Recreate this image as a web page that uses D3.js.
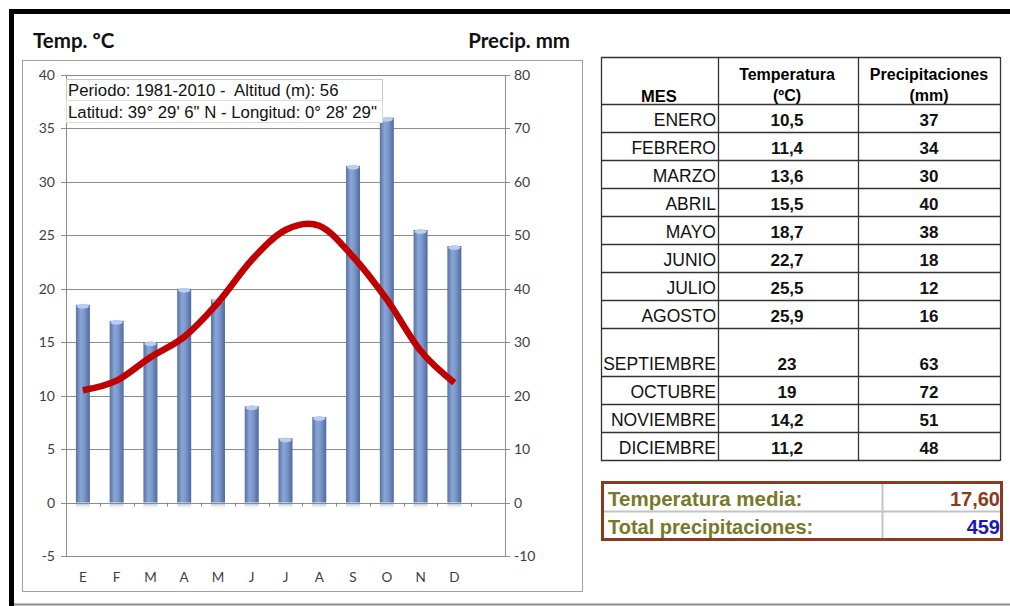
<!DOCTYPE html>
<html>
<head>
<meta charset="utf-8">
<script src="https://cdn.jsdelivr.net/npm/d3@7"></script>
<style>
    html, body { margin: 0; padding: 0; background: #fff; }
    svg { display: block; }
    .cal { font-family: Lato, 'Open Sans', sans-serif; }
    .ar { font-family: 'Liberation Sans', Arial, sans-serif; }
</style>
</head>
<body>
<div id="chart"></div>
<script>
/* === Climograma: temperatura y precipitaciones === */

var monthLetters = ['E', 'F', 'M', 'A', 'M', 'J', 'J', 'A', 'S', 'O', 'N', 'D'];
var monthNames = ['ENERO', 'FEBRERO', 'MARZO', 'ABRIL', 'MAYO', 'JUNIO', 'JULIO',
    'AGOSTO', 'SEPTIEMBRE', 'OCTUBRE', 'NOVIEMBRE', 'DICIEMBRE'];
var tempValues = [10.5, 11.4, 13.6, 15.5, 18.7, 22.7, 25.5, 25.9, 23, 19, 14.2, 11.2];
var precipValues = [37, 34, 30, 40, 38, 18, 12, 16, 63, 72, 51, 48];
var tempTicks = [-5, 0, 5, 10, 15, 20, 25, 30, 35, 40];
var precipTicks = [-10, 0, 10, 20, 30, 40, 50, 60, 70, 80];
var infoLines = ['Periodo: 1981-2010 -  Altitud (m): 56',
    'Latitud: 39° 29\' 6" N - Longitud: 0° 28\' 29"'];

var W = 1010, H = 606;
var svg = d3.select('#chart').append('svg')
    .attr('width', W)
    .attr('height', H);

function fmtComma(v, digits) {
    var s = digits != null ? v.toFixed(digits) : (v % 1 ? v.toFixed(1) : String(v));
    return s.replace('.', ',');
}

// Outer frame
svg.append('rect').attr('x', 9).attr('y', 9).attr('width', W - 9).attr('height', 5).attr('fill', '#000');
svg.append('rect').attr('x', 9).attr('y', 9).attr('width', 5).attr('height', H - 9).attr('fill', '#000');
svg.append('line').attr('x1', 14).attr('x2', W).attr('y1', 604.5).attr('y2', 604.5)
    .attr('stroke', '#8a8a8a').attr('stroke-width', 2);

// Titles
svg.append('text').attr('class', 'cal').attr('x', 33).attr('y', 48)
    .attr('font-size', 20.5).attr('font-weight', 'bold').attr('fill', '#111').text('Temp. ºC');
svg.append('text').attr('class', 'cal').attr('x', 570).attr('y', 48)
    .attr('text-anchor', 'end').attr('font-size', 20.5).attr('font-weight', 'bold').attr('fill', '#111').text('Precip. mm');

// Chart frame
svg.append('rect').attr('x', 22.5).attr('y', 60.5).attr('width', 560).attr('height', 531)
    .attr('fill', 'none').attr('stroke', '#a0a0a0');

var plotLeft = 66, plotRight = 505;
var yT = d3.scaleLinear().domain([-5, 40]).range([556, 75]);
var yP = d3.scaleLinear().domain([-10, 80]).range([556, 75]);
// Excel left one empty slot after December
var slotW = (plotRight - plotLeft) / (monthLetters.length + 1);
var x = d3.scaleBand().domain(d3.range(monthLetters.length))
    .range([plotLeft, plotLeft + slotW * monthLetters.length]);

// Gridlines
svg.append('g').selectAll('line').data(tempTicks).join('line')
    .attr('x1', plotLeft - 5).attr('x2', plotRight + 5)
    .attr('y1', function(d) { return Math.round(yT(d)) + 0.5; })
    .attr('y2', function(d) { return Math.round(yT(d)) + 0.5; })
    .attr('stroke', '#8c8c8c').attr('stroke-width', 1);

// Axis lines
svg.append('line').attr('x1', plotLeft + 0.5).attr('x2', plotLeft + 0.5)
    .attr('y1', yT(40)).attr('y2', yT(-5)).attr('stroke', '#8c8c8c');
svg.append('line').attr('x1', plotRight + 0.5).attr('x2', plotRight + 0.5)
    .attr('y1', yP(80)).attr('y2', yP(-10)).attr('stroke', '#8c8c8c');

// Left axis labels
svg.append('g').selectAll('text').data(tempTicks).join('text')
    .attr('class', 'cal')
    .attr('x', 55).attr('y', function(d) { return yT(d) + 5; })
    .attr('text-anchor', 'end').attr('font-size', 14).attr('fill', '#404040')
    .text(function(d) { return d; });

// Right axis labels
svg.append('g').selectAll('text').data(precipTicks).join('text')
    .attr('class', 'cal')
    .attr('x', 514).attr('y', function(d) { return yP(d) + 5; })
    .attr('font-size', 14).attr('fill', '#404040')
    .text(function(d) { return d; });

// Bar gradient (cylinder look)
var defs = svg.append('defs');
var grad = defs.append('linearGradient').attr('id', 'barGrad')
    .attr('x1', '0%').attr('x2', '100%').attr('y1', '0%').attr('y2', '0%');
grad.append('stop').attr('offset', '0%').attr('stop-color', '#56729f');
grad.append('stop').attr('offset', '35%').attr('stop-color', '#8aa6d8');
grad.append('stop').attr('offset', '60%').attr('stop-color', '#7b97cb');
grad.append('stop').attr('offset', '100%').attr('stop-color', '#4f6a9a');
var shadow = defs.append('linearGradient').attr('id', 'shadowGrad')
    .attr('x1', '0%').attr('x2', '0%').attr('y1', '0%').attr('y2', '100%');
shadow.append('stop').attr('offset', '0%').attr('stop-color', '#6f84a8').attr('stop-opacity', 0.5);
shadow.append('stop').attr('offset', '100%').attr('stop-color', '#ffffff').attr('stop-opacity', 0);

var barW = 14;
var bars = svg.append('g');
bars.selectAll('rect.shadow').data(precipValues).join('rect')
    .attr('class', 'shadow')
    .attr('x', function(d, i) { return x(i) + x.bandwidth() / 2 - barW / 2; })
    .attr('y', yP(0) + 1).attr('width', barW).attr('height', 6)
    .attr('fill', 'url(#shadowGrad)');
bars.selectAll('rect.bar').data(precipValues).join('rect')
    .attr('class', 'bar')
    .attr('x', function(d, i) { return x(i) + x.bandwidth() / 2 - barW / 2; })
    .attr('y', function(d) { return yP(d); })
    .attr('width', barW)
    .attr('height', function(d) { return yP(0) - yP(d); })
    .attr('fill', 'url(#barGrad)');
bars.selectAll('ellipse').data(precipValues).join('ellipse')
    .attr('cx', function(d, i) { return x(i) + x.bandwidth() / 2; })
    .attr('cy', function(d) { return yP(d) + 1.5; })
    .attr('rx', barW / 2 - 1).attr('ry', 2.5)
    .attr('fill', '#b8cdef');

// X axis ticks on zero line
var xTicks = d3.range(monthLetters.length + 2).map(function(i) { return plotLeft + i * slotW; });
svg.append('g').selectAll('line').data(xTicks).join('line')
    .attr('x1', function(d) { return Math.round(d) + 0.5; })
    .attr('x2', function(d) { return Math.round(d) + 0.5; })
    .attr('y1', yT(0)).attr('y2', yT(0) + 4)
    .attr('stroke', '#8c8c8c');

// X labels
svg.append('g').selectAll('text').data(monthLetters).join('text')
    .attr('class', 'cal')
    .attr('x', function(d, i) { return x(i) + x.bandwidth() / 2; })
    .attr('y', 582).attr('text-anchor', 'middle')
    .attr('font-size', 13.5).attr('fill', '#404040')
    .text(function(d) { return d; });

// Temperature line
var line = d3.line()
    .x(function(d, i) { return x(i) + x.bandwidth() / 2; })
    .y(function(d) { return yT(d); })
    .curve(d3.curveCatmullRom.alpha(0));
svg.append('path').datum(tempValues)
    .attr('d', line)
    .attr('fill', 'none')
    .attr('stroke', '#c00000')
    .attr('stroke-width', 6.5)
    .attr('stroke-linejoin', 'round');

// Station info box
var info = svg.append('g');
info.append('rect').attr('x', 66.5).attr('y', 79.5).attr('width', 316).attr('height', 21)
    .attr('fill', '#fff').attr('stroke', '#c8c8c8');
info.append('rect').attr('x', 66.5).attr('y', 100.5).attr('width', 316).attr('height', 22)
    .attr('fill', '#fff').attr('stroke', '#dcdcdc');
info.selectAll('text').data(infoLines).join('text')
    .attr('class', 'ar')
    .attr('x', 68).attr('y', function(d, i) { return 96 + i * 22; })
    .attr('font-size', 16.8).attr('fill', '#111')
    .style('white-space', 'pre')
    .text(function(d) { return d; });

// === Data table ===
var colX = [601, 718, 858, 1000];
var headerTop = 57, headerBottom = 104;
var rowH = monthNames.map(function(m) { return m === 'SEPTIEMBRE' ? 48 : 28; });
var rowBottoms = [];
var acc = headerBottom;
rowH.forEach(function(h) { acc += h; rowBottoms.push(acc); });

var table = svg.append('g');
var hLines = [headerTop, headerBottom].concat(rowBottoms);
table.selectAll('line.h').data(hLines).join('line')
    .attr('class', 'h')
    .attr('x1', colX[0]).attr('x2', colX[3])
    .attr('y1', function(d) { return d + 0.5; }).attr('y2', function(d) { return d + 0.5; })
    .attr('stroke', '#333').attr('stroke-width', 1.3);
table.selectAll('line.v').data(colX).join('line')
    .attr('class', 'v')
    .attr('x1', function(d) { return d + 0.5; }).attr('x2', function(d) { return d + 0.5; })
    .attr('y1', headerTop).attr('y2', acc + 1)
    .attr('stroke', '#333').attr('stroke-width', 1.3);

var tempCx = 787, precCx = 929;
table.append('text').attr('class', 'ar').attr('x', 659).attr('y', 102)
    .attr('text-anchor', 'middle').attr('font-size', 16.5).attr('font-weight', 'bold').text('MES');
[['Temperatura', '(ºC)', tempCx], ['Precipitaciones', '(mm)', precCx]].forEach(function(h) {
    table.append('text').attr('class', 'ar').attr('x', h[2]).attr('y', 80)
        .attr('text-anchor', 'middle').attr('font-size', 16).attr('font-weight', 'bold').text(h[0]);
    table.append('text').attr('class', 'ar').attr('x', h[2]).attr('y', 101)
        .attr('text-anchor', 'middle').attr('font-size', 16).attr('font-weight', 'bold').text(h[1]);
});

table.selectAll('text.mes').data(monthNames).join('text')
    .attr('class', 'ar mes')
    .attr('x', 716).attr('y', function(d, i) { return rowBottoms[i] - 6.5; })
    .attr('text-anchor', 'end').attr('font-size', 17.5).attr('fill', '#111')
    .text(function(d) { return d; });
table.selectAll('text.t').data(tempValues).join('text')
    .attr('class', 'ar t')
    .attr('x', tempCx).attr('y', function(d, i) { return rowBottoms[i] - 6.5; })
    .attr('text-anchor', 'middle').attr('font-size', 17).attr('font-weight', 'bold').attr('fill', '#111')
    .text(function(d) { return fmtComma(d); });
table.selectAll('text.p').data(precipValues).join('text')
    .attr('class', 'ar p')
    .attr('x', precCx).attr('y', function(d, i) { return rowBottoms[i] - 6.5; })
    .attr('text-anchor', 'middle').attr('font-size', 17).attr('font-weight', 'bold').attr('fill', '#111')
    .text(function(d) { return d; });

// === Summary box ===
var meanTemp = d3.mean(tempValues);
var totalPrecip = d3.sum(precipValues);
var sum = svg.append('g');
sum.append('line').attr('x1', 603).attr('x2', 1001).attr('y1', 511.5).attr('y2', 511.5)
    .attr('stroke', '#c4c4c4').attr('stroke-width', 2);
sum.append('line').attr('x1', 882.5).attr('x2', 882.5).attr('y1', 483).attr('y2', 539)
    .attr('stroke', '#c4c4c4').attr('stroke-width', 2);
sum.append('rect').attr('x', 602.5).attr('y', 482.5).attr('width', 399).attr('height', 57)
    .attr('fill', 'none').attr('stroke', '#8b3a1e').attr('stroke-width', 3);
sum.append('text').attr('class', 'ar').attr('x', 608).attr('y', 506)
    .attr('font-size', 20.5).attr('font-weight', 'bold').attr('fill', '#78782a').text('Temperatura media:');
sum.append('text').attr('class', 'ar').attr('x', 608).attr('y', 534)
    .attr('font-size', 20).attr('font-weight', 'bold').attr('fill', '#78782a').text('Total precipitaciones:');
sum.append('text').attr('class', 'ar').attr('x', 1000).attr('y', 506)
    .attr('text-anchor', 'end').attr('font-size', 20).attr('font-weight', 'bold').attr('fill', '#8b3a1e')
    .text(fmtComma(meanTemp, 2));
sum.append('text').attr('class', 'ar').attr('x', 1000).attr('y', 534)
    .attr('text-anchor', 'end').attr('font-size', 20).attr('font-weight', 'bold').attr('fill', '#1818c0')
    .text(totalPrecip);
</script>
</body>
</html>
